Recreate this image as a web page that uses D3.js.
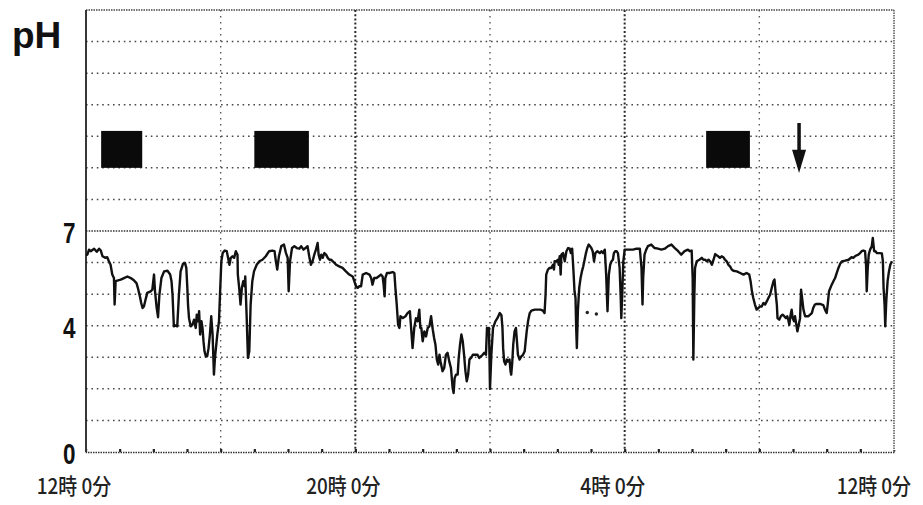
<!DOCTYPE html>
<html>
<head>
<meta charset="utf-8">
<script src="https://cdn.jsdelivr.net/npm/d3@7"></script>
<style>
  html, body { margin: 0; padding: 0; background: #fff; }
  svg { display: block; }
</style>
</head>
<body>
<svg id="chart" width="923" height="505"></svg>
<script>
// 24-hour ambulatory pH recording, 12:00 to 12:00 next day.
// Trace samples: [hours since 12:00, pH]
const phTrace = [
  [0.00,6.25],[0.04,6.25],[0.09,6.41],[0.14,6.36],[0.24,6.44],[0.32,6.34],[0.39,6.44],[0.44,6.38],
  [0.49,6.20],[0.58,6.15],[0.63,6.17],[0.68,6.04],[0.73,5.93],[0.78,5.62],[0.83,5.51],[0.85,4.67],
  [0.88,5.41],[0.93,5.43],[1.03,5.46],[1.13,5.51],[1.23,5.56],[1.33,5.51],[1.43,5.43],[1.50,5.35],
  [1.54,5.20],[1.60,4.93],[1.64,4.72],[1.68,4.56],[1.72,4.61],[1.77,4.83],[1.82,5.04],[1.92,5.09],
  [1.97,5.14],[2.02,5.62],[2.05,5.09],[2.10,4.56],[2.14,4.27],[2.18,4.98],[2.24,5.51],[2.32,5.72],
  [2.42,5.74],[2.50,5.62],[2.54,5.41],[2.57,4.98],[2.61,3.98],[2.66,4.01],[2.71,3.98],[2.76,4.98],
  [2.81,5.72],[2.88,5.96],[2.94,5.99],[2.98,5.83],[3.01,5.20],[3.03,4.67],[3.06,4.24],[3.11,3.98],
  [3.16,4.03],[3.21,4.19],[3.26,3.93],[3.29,4.35],[3.33,4.14],[3.36,4.46],[3.39,3.72],[3.43,4.14],
  [3.46,3.93],[3.49,3.51],[3.52,3.19],[3.56,3.03],[3.60,3.03],[3.64,3.29],[3.68,3.72],[3.72,4.30],
  [3.76,3.72],[3.78,3.08],[3.80,2.45],[3.83,2.98],[3.87,3.40],[3.90,3.72],[3.95,4.14],[3.98,4.98],
  [4.02,6.04],[4.06,6.30],[4.12,6.38],[4.18,6.36],[4.22,6.15],[4.26,5.93],[4.30,6.15],[4.35,6.20],
  [4.40,6.15],[4.45,6.36],[4.50,6.25],[4.51,5.62],[4.55,5.20],[4.59,4.67],[4.63,5.20],[4.67,5.41],
  [4.71,5.25],[4.73,5.56],[4.77,4.35],[4.81,2.98],[4.85,3.19],[4.89,4.67],[4.94,5.41],[4.99,5.72],
  [5.07,5.93],[5.15,6.04],[5.24,6.09],[5.34,6.20],[5.44,6.36],[5.53,6.38],[5.60,6.36],[5.64,6.04],
  [5.68,5.78],[5.73,6.20],[5.80,6.52],[5.88,6.57],[5.94,6.30],[5.99,6.15],[6.02,5.09],[6.06,6.04],
  [6.12,6.46],[6.19,6.52],[6.26,6.46],[6.34,6.44],[6.39,6.52],[6.46,6.41],[6.52,6.46],[6.58,6.52],
  [6.63,6.20],[6.68,5.93],[6.73,6.04],[6.78,6.25],[6.83,6.41],[6.88,6.62],[6.91,6.25],[6.95,6.09],
  [6.99,6.25],[7.03,6.15],[7.08,6.30],[7.13,6.25],[7.18,6.15],[7.23,6.09],[7.28,6.09],[7.33,6.04],
  [7.38,5.99],[7.43,5.93],[7.52,5.88],[7.62,5.83],[7.72,5.72],[7.82,5.62],[7.92,5.56],[7.97,5.41],
  [8.02,5.25],[8.07,5.20],[8.12,5.25],[8.17,5.25],[8.22,5.62],[8.32,5.67],[8.42,5.62],[8.47,5.51],
  [8.51,5.30],[8.56,5.51],[8.63,5.51],[8.69,5.56],[8.76,5.62],[8.81,5.56],[8.84,5.30],[8.87,4.93],
  [8.89,5.51],[8.94,5.67],[9.01,5.67],[9.11,5.70],[9.16,5.67],[9.19,5.20],[9.23,4.67],[9.27,4.03],
  [9.31,3.93],[9.34,4.30],[9.41,4.24],[9.49,4.30],[9.55,4.40],[9.62,4.46],[9.65,4.03],[9.70,3.29],
  [9.75,3.93],[9.80,4.24],[9.85,4.14],[9.90,4.51],[9.93,3.93],[9.96,3.93],[10.00,3.51],[10.05,3.82],
  [10.10,3.66],[10.15,3.93],[10.20,3.98],[10.25,4.30],[10.30,3.88],[10.34,3.61],[10.38,3.40],[10.42,2.93],
  [10.46,2.77],[10.50,3.08],[10.53,2.87],[10.57,2.66],[10.59,2.56],[10.64,2.66],[10.69,3.08],[10.74,3.14],
  [10.79,2.87],[10.84,2.66],[10.89,2.03],[10.92,1.87],[10.95,2.34],[10.99,2.45],[11.04,2.45],[11.07,2.98],
  [11.11,3.40],[11.15,3.72],[11.19,3.51],[11.23,3.08],[11.27,2.56],[11.31,2.24],[11.35,2.45],[11.39,2.93],
  [11.44,2.98],[11.49,3.08],[11.57,3.08],[11.63,3.08],[11.68,2.98],[11.73,3.03],[11.78,3.08],[11.83,3.14],
  [11.88,3.08],[11.91,3.93],[11.94,3.82],[11.97,3.93],[12.00,2.00],[12.04,3.08],[12.09,3.93],[12.16,4.14],
  [12.22,4.24],[12.29,4.40],[12.34,4.33],[12.37,3.93],[12.39,3.29],[12.42,2.87],[12.46,2.77],[12.50,2.93],
  [12.53,2.87],[12.58,2.93],[12.61,2.56],[12.63,2.45],[12.66,2.82],[12.69,3.40],[12.73,3.82],[12.77,3.93],
  [12.80,3.51],[12.83,3.08],[12.88,2.93],[12.93,3.03],[12.98,3.08],[13.03,3.19],[13.06,3.51],[13.09,3.82],
  [13.13,4.14],[13.18,4.40],[13.23,4.48],[13.33,4.51],[13.43,4.51],[13.50,4.51],[13.57,4.48],[13.62,4.40],
  [13.65,4.98],[13.67,5.62],[13.72,5.78],[13.77,5.83],[13.82,5.83],[13.87,5.93],[13.90,5.78],[13.92,6.04],
  [13.97,6.04],[14.02,6.09],[14.04,5.93],[14.07,6.20],[14.10,5.62],[14.12,6.25],[14.17,6.30],[14.22,6.04],
  [14.27,6.36],[14.32,6.46],[14.37,6.44],[14.40,6.30],[14.44,6.44],[14.48,5.72],[14.51,5.09],[14.54,4.88],
  [14.56,3.93],[14.58,3.29],[14.61,4.46],[14.65,5.20],[14.69,5.51],[14.73,5.72],[14.77,5.88],[14.81,6.09],
  [14.85,6.30],[14.89,6.46],[14.93,6.57],[14.97,6.52],[15.01,6.46],[15.05,6.36],[15.09,6.04],[15.13,6.30],
  [15.19,6.36],[15.26,6.30],[15.31,6.36],[15.36,6.30],[15.41,6.41],[15.45,5.62],[15.49,4.46],[15.53,5.62],
  [15.57,5.93],[15.61,6.04],[15.65,6.09],[15.68,6.30],[15.72,6.36],[15.76,6.36],[15.80,6.30],[15.85,5.83],
  [15.88,4.98],[15.90,4.24],[15.93,5.09],[15.96,6.04],[16.00,6.41],[16.08,6.41],[16.15,6.41],[16.25,6.41],
  [16.35,6.44],[16.45,6.44],[16.50,5.83],[16.53,4.67],[16.55,5.51],[16.59,6.25],[16.64,6.41],[16.69,6.52],
  [16.79,6.57],[16.89,6.46],[16.99,6.44],[17.09,6.41],[17.19,6.44],[17.29,6.52],[17.39,6.57],[17.49,6.46],
  [17.59,6.36],[17.68,6.25],[17.78,6.36],[17.88,6.41],[17.93,6.36],[17.99,6.38],[18.02,5.51],[18.04,2.93],
  [18.07,4.98],[18.09,5.83],[18.14,6.04],[18.22,6.09],[18.29,6.15],[18.34,6.09],[18.39,6.09],[18.44,6.04],
  [18.49,6.09],[18.54,6.04],[18.59,5.93],[18.64,6.09],[18.69,6.27],[18.73,6.23],[18.78,6.20],[18.83,6.15],
  [18.88,6.20],[18.93,6.17],[18.98,6.09],[19.03,6.04],[19.08,5.93],[19.13,5.88],[19.18,5.78],[19.23,5.74],
  [19.33,5.72],[19.43,5.67],[19.53,5.62],[19.62,5.67],[19.70,5.62],[19.74,5.41],[19.78,5.09],[19.82,4.88],
  [19.87,4.67],[19.92,4.51],[19.97,4.56],[20.02,4.61],[20.07,4.61],[20.12,4.72],[20.17,4.67],[20.22,4.77],
  [20.27,4.88],[20.32,4.98],[20.37,5.20],[20.42,5.41],[20.45,5.46],[20.49,4.98],[20.52,4.67],[20.54,4.24],
  [20.59,4.19],[20.64,4.30],[20.69,4.35],[20.74,4.30],[20.79,4.24],[20.83,4.30],[20.86,4.19],[20.89,4.03],
  [20.93,4.35],[20.96,4.51],[20.99,4.24],[21.03,4.14],[21.06,4.30],[21.09,4.09],[21.13,3.82],[21.17,4.03],
  [21.21,4.24],[21.24,5.14],[21.27,4.88],[21.31,4.51],[21.36,4.30],[21.41,4.30],[21.46,4.30],[21.51,4.35],
  [21.56,4.40],[21.60,4.56],[21.65,4.67],[21.70,4.69],[21.80,4.69],[21.90,4.65],[21.95,4.51],[22.00,4.40],
  [22.03,4.67],[22.07,5.09],[22.15,5.30],[22.20,5.41],[22.25,5.51],[22.30,5.67],[22.35,5.83],[22.40,5.96],
  [22.45,6.04],[22.55,6.06],[22.65,6.09],[22.74,6.17],[22.79,6.15],[22.84,6.20],[22.89,6.23],[22.94,6.25],
  [22.99,6.30],[23.04,6.36],[23.09,6.38],[23.14,6.36],[23.17,5.93],[23.19,5.09],[23.22,5.83],[23.25,6.25],
  [23.29,6.41],[23.34,6.52],[23.37,6.78],[23.41,6.36],[23.45,6.36],[23.49,6.30],[23.57,6.30],[23.64,6.29],
  [23.67,6.04],[23.69,5.20],[23.72,4.67],[23.74,3.98],[23.77,4.77],[23.81,5.41],[23.85,5.72],[23.89,5.93],
  [23.94,6.04]
];

// Stray pen dots below the trace
const strayDots = [[14.89, 4.42], [15.16, 4.37]];

// Meal periods (hours since 12:00)
const mealStart = [0.45, 5.00, 18.42];
const mealEnd   = [1.67, 6.62, 19.72];

// Event marker (arrow) time
const eventHours = [21.18];

// Axis ticks
const yTickValues = [0, 4, 7];
const xTickHours  = [0, 8, 16, 24];
const xTickLabels = ["12時 0分", "20時 0分", "4時 0分", "12時 0分"];

const W = 923;
const svg = d3.select("#chart");
const x = d3.scaleLinear().domain([0, 24]).range([86, 894]);
const y = d3.scaleLinear().domain([0, 14]).range([452, 10]);

svg.append("rect").attr("width", W).attr("height", 505).attr("fill", "#fff");

const grid = svg.append("g");

// Horizontal dotted gridlines, one per pH unit
d3.range(1, 14).forEach(v => {
  const strong = v === 7;
  grid.append("line")
    .attr("x1", x(0)).attr("x2", x(24))
    .attr("y1", y(v)).attr("y2", y(v))
    .attr("stroke", strong ? "#333" : "#4a4a4a")
    .attr("stroke-width", strong ? 1.6 : 1.5)
    .attr("stroke-dasharray", strong ? "1.5,1.2" : "1.6,3.8");
});

// Vertical dotted gridlines every 4 hours
[4, 8, 12, 16, 20].forEach(h => {
  const strong = h % 8 === 0;
  grid.append("line")
    .attr("x1", x(h)).attr("x2", x(h))
    .attr("y1", y(14)).attr("y2", y(0))
    .attr("stroke", strong ? "#2a2a2a" : "#5a5a5a")
    .attr("stroke-width", strong ? 2 : 1.4)
    .attr("stroke-dasharray", strong ? "2,2.2" : "1.5,4.5");
});

// Frame: top and right dense dotted, left solid
grid.append("line").attr("x1", x(0)).attr("x2", x(24)).attr("y1", y(14)).attr("y2", y(14))
  .attr("stroke", "#444").attr("stroke-width", 1.6).attr("stroke-dasharray", "1.5,1");
grid.append("line").attr("x1", x(24)).attr("x2", x(24)).attr("y1", y(14)).attr("y2", y(0))
  .attr("stroke", "#555").attr("stroke-width", 1.5).attr("stroke-dasharray", "1.5,1");
grid.append("line").attr("x1", x(0)).attr("x2", x(0)).attr("y1", y(14)).attr("y2", y(0))
  .attr("stroke", "#222").attr("stroke-width", 1.8);

// Bottom axis with hourly tick marks
const bottomAxis = d3.axisBottom(x).tickValues(d3.range(1, 24)).tickSize(-3).tickFormat("");
const gx = svg.append("g").attr("transform", `translate(0,${y(0)})`).call(bottomAxis);
gx.select(".domain").attr("stroke", "#333").attr("stroke-width", 1.6).attr("stroke-dasharray", "1.5,1");
gx.selectAll(".tick line").attr("stroke", "#222").attr("stroke-width", 2.2);

// Meal bars
svg.append("g").selectAll("rect")
  .data(mealStart.map((s, i) => [s, mealEnd[i]]))
  .join("rect")
  .attr("x", d => x(d[0]))
  .attr("width", d => x(d[1]) - x(d[0]))
  .attr("y", y(10.17))
  .attr("height", y(9.0) - y(10.17))
  .attr("fill", "#0a0a0a");

// Event arrow
const arrows = svg.append("g").selectAll("g").data(eventHours).join("g");
arrows.append("line")
  .attr("x1", d => x(d)).attr("x2", d => x(d))
  .attr("y1", y(10.42)).attr("y2", y(9.4))
  .attr("stroke", "#111").attr("stroke-width", 3.5);
arrows.append("path")
  .attr("d", d => `M${x(d) - 7},${y(9.57)} L${x(d) + 7},${y(9.57)} L${x(d)},${y(8.84)} Z`)
  .attr("fill", "#111");

// pH trace
const line = d3.line().x(d => x(d[0])).y(d => y(d[1]));
svg.append("path")
  .datum(phTrace)
  .attr("d", line)
  .attr("fill", "none")
  .attr("stroke", "#111")
  .attr("stroke-width", 2.4)
  .attr("stroke-linejoin", "round");

svg.append("g").selectAll("circle").data(strayDots).join("circle")
  .attr("cx", d => x(d[0])).attr("cy", d => y(d[1])).attr("r", 1.7).attr("fill", "#222");

// Y tick labels
svg.append("g").selectAll("text").data(yTickValues).join("text")
  .attr("x", 63)
  .attr("y", d => y(d) + 12)
  .attr("textLength", 12.5)
  .attr("lengthAdjust", "spacingAndGlyphs")
  .attr("font-family", "'Liberation Sans', Arial, sans-serif")
  .attr("font-weight", "bold")
  .attr("font-size", 30)
  .attr("fill", "#111")
  .text(d => d);

// Axis title
svg.append("text")
  .attr("x", 12).attr("y", 48)
  .attr("font-family", "'Liberation Sans', Arial, sans-serif")
  .attr("font-weight", "bold")
  .attr("font-size", 37)
  .attr("fill", "#111")
  .text("pH");

// X tick labels (time of day): narrowed horizontally, kept inside the right edge
const halfWidths = s => Array.from(s).reduce((n, c) => n + (c.charCodeAt(0) > 255 ? 2 : 1), 0);
const labelWidth = i => halfWidths(xTickLabels[i]) * 9.3;
svg.append("g").selectAll("text").data(xTickHours).join("text")
  .attr("text-anchor", "middle")
  .attr("font-family", "'Noto Sans CJK JP', sans-serif")
  .attr("font-weight", 500)
  .attr("font-size", 22)
  .attr("fill", "#222")
  .text((d, i) => xTickLabels[i])
  .each(function (d, i) {
    const natural = this.getComputedTextLength();
    const w = labelWidth(i);
    const cx = Math.min(x(d) - 12, W - 12 - w / 2);
    d3.select(this).attr("transform", `translate(${cx},494) scale(${w / natural},1)`);
  });
</script>
</body>
</html>
